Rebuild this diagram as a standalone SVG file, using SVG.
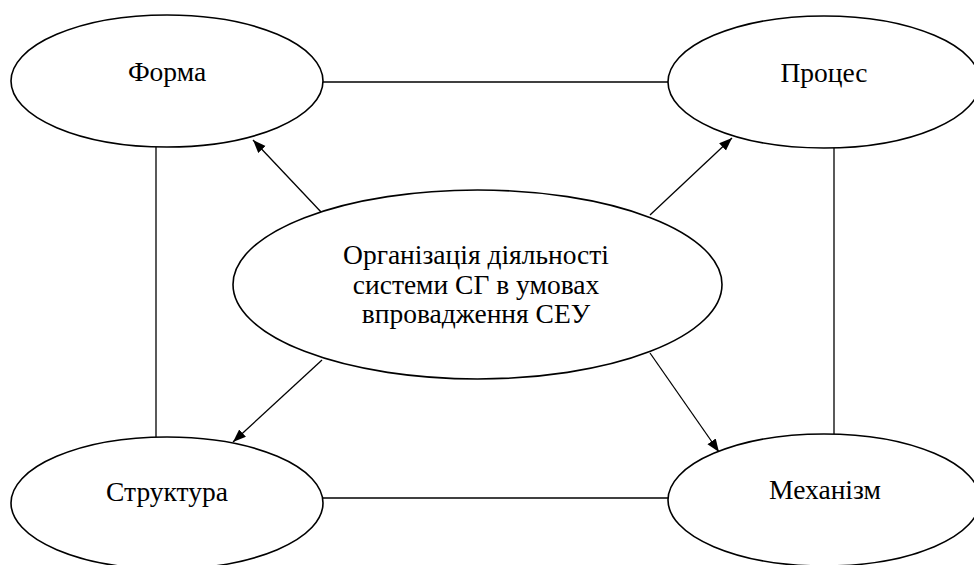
<svg xmlns="http://www.w3.org/2000/svg" width="974" height="565" viewBox="0 0 974 565">
<style>
.node ellipse{fill:#fff;stroke:#000;stroke-width:1.6}
.node text{font-family:"Liberation Serif","Times New Roman",serif;font-size:27.5px;fill:#000;text-anchor:middle}
.conn line{stroke:#000;stroke-width:1.3}
</style>
<defs>
<marker id="ah" markerUnits="userSpaceOnUse" markerWidth="14" markerHeight="12" refX="13" refY="5" orient="auto">
<path d="M0,0 L13,5 L0,10 z" fill="#000"/>
</marker>
</defs>
<rect width="974" height="565" fill="#fff"/>
<g id="connectors" class="conn">
<line x1="323" y1="82" x2="668" y2="82"/>
<line x1="156" y1="147" x2="156" y2="437"/>
<line x1="834" y1="148" x2="834" y2="434"/>
<line x1="323" y1="498" x2="668" y2="498"/>
<line x1="322" y1="213" x2="253" y2="140" marker-end="url(#ah)"/>
<line x1="650" y1="215" x2="732" y2="138" marker-end="url(#ah)"/>
<line x1="322" y1="360" x2="233" y2="442" marker-end="url(#ah)"/>
<line x1="650" y1="353" x2="719" y2="452" marker-end="url(#ah)"/>
</g>
<g id="forma" class="node">
<ellipse cx="167" cy="81" rx="156" ry="66"/>
<text x="167" y="81">Форма</text>
</g>
<g id="protses" class="node">
<ellipse cx="824" cy="82" rx="156" ry="66"/>
<text x="824" y="82">Процес</text>
</g>
<g id="struktura" class="node">
<ellipse cx="167" cy="503" rx="156" ry="66"/>
<text x="167" y="501">Структура</text>
</g>
<g id="mekhanizm" class="node">
<ellipse cx="824" cy="500" rx="156" ry="66"/>
<text x="825" y="499">Механізм</text>
</g>
<g id="center" class="node">
<ellipse cx="477.5" cy="284.5" rx="244.5" ry="94.5"/>
<text x="476" y="264">Організація діяльності</text>
<text x="476" y="294">системи СГ в умовах</text>
<text x="476" y="323">впровадження СЕУ</text>
</g>
</svg>
